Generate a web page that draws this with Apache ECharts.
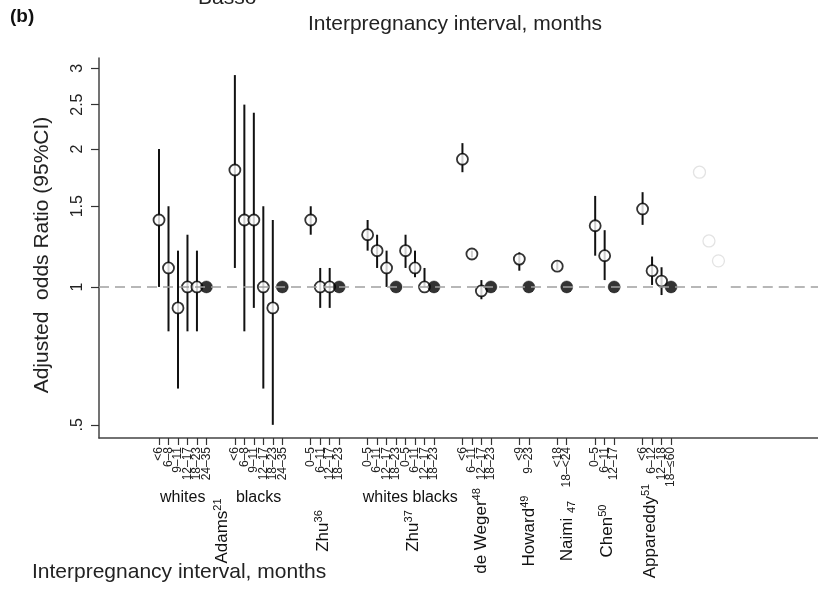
<!DOCTYPE html>
<html><head><meta charset="utf-8">
<script src="https://cdn.jsdelivr.net/npm/echarts@6/dist/echarts.min.js"></script>
<style>html,body{margin:0;padding:0;background:#fff}#c{width:818px;height:590px}</style>
</head><body><div id="c"></div>
<script>
const N = null;
// interval categories along the x axis ('' = spacer between studies)
const intervalLabels = [
  '<6','6–8','9–11','12–17','18–23','24–35','','',
  '<6','6–8','9–11','12–17','18–23','24–35','','',
  '0–5','6–11','12–17','18–23','','',
  '0–5','6–11','12–17','18–23','0–5','6–11','12–17','18–23','','',
  '<6','6–11','12–17','18–23','','',
  '<9','9–23','','',
  '<18','18–<24','','',
  '0–5','6–11','12–17','','',
  '<6','6–12','12–18','18–≤60','','',
  '','',''
];
const oddsRatio = [
  1.4,1.1,0.9,1.0,1.0,N,N,N,
  1.8,1.4,1.4,1.0,0.9,N,N,N,
  1.4,1.0,1.0,N,N,N,
  1.3,1.2,1.1,N,1.2,1.1,1.0,N,N,N,
  1.9,1.18,0.98,N,N,N,
  1.15,N,N,N,
  1.11,N,N,N,
  1.36,1.17,N,N,N,
  1.48,1.085,1.03,N,N,N,
  N,N,N
];
const ciLower = [
  1.0,0.8,0.6,0.8,0.8,N,N,N,
  1.1,0.8,0.9,0.6,0.5,N,N,N,
  1.3,0.9,0.9,N,N,N,
  1.2,1.1,1.0,N,1.1,1.05,1.0,N,N,N,
  1.78,1.16,0.94,N,N,N,
  1.085,N,N,N,
  1.09,N,N,N,
  1.17,1.035,N,N,N,
  1.366,1.01,0.96,N,N,N,
  N,N,N
];
const ciUpper = [
  2.0,1.5,1.2,1.3,1.2,N,N,N,
  2.9,2.5,2.4,1.5,1.4,N,N,N,
  1.5,1.1,1.1,N,N,N,
  1.4,1.3,1.2,N,1.3,1.2,1.1,N,N,N,
  2.06,1.2,1.035,N,N,N,
  1.19,N,N,N,
  1.135,N,N,N,
  1.58,1.33,N,N,N,
  1.61,1.165,1.104,N,N,N,
  N,N,N
];
const referenceOR = [
  N,N,N,N,N,1,N,N,
  N,N,N,N,N,1,N,N,
  N,N,N,1,N,N,
  N,N,N,1,N,N,N,1,N,N,
  N,N,N,1,N,N,
  N,1,N,N,
  N,1,N,N,
  N,N,1,N,N,
  N,N,N,1,N,N,
  N,N,N
];
const fadedOR = [
  N,N,N,N,N,N,N,N, N,N,N,N,N,N,N,N, N,N,N,N,N,N,
  N,N,N,N,N,N,N,N,N,N, N,N,N,N,N,N, N,N,N,N, N,N,N,N,
  N,N,N,N,N, N,N,N,N,N,N,
  1.78,1.26,1.14
];
const yTicks = [0.5, 1, 1.5, 2, 2.5, 3];
const studies = [
  {name:'Adams', sup:'21', at:6.65},
  {name:'Zhu', sup:'36', at:17.3},
  {name:'Zhu', sup:'37', at:26.8},
  {name:'de Weger', sup:'48', at:34.0},
  {name:'Howard', sup:'49', at:39.1},
  {name:'Naimi ', sub:'47', at:43.1},
  {name:'Chen', sup:'50', at:47.3},
  {name:'Appareddy', sup:'51', at:51.8}
];
const groups = [
  {text:'whites', at:2.5},
  {text:'blacks', at:10.5},
  {text:'whites blacks', at:26.5}
];
const axisTitle = 'Interpregnancy interval, months';
const yTitle = 'Adjusted  odds Ratio (95%CI)';

const FONT = '"Liberation Sans", Arial, sans-serif';
const X_MIN = -6.33, X_MAX = 69.5, Y_MIN = 0.468, Y_MAX = 3.16;

const tickIdx = [];
const errData = [], openData = [], refData = [], fadedData = [];
intervalLabels.forEach((l, i) => {
  if (l) tickIdx.push(i);
  if (ciLower[i] != null) errData.push([i, ciLower[i], ciUpper[i]]);
  if (oddsRatio[i] != null) openData.push([i, oddsRatio[i]]);
  if (referenceOR[i] != null) refData.push([i, referenceOR[i]]);
  if (fadedOR[i] != null) fadedData.push([i, fadedOR[i]]);
});
// blank labels at both axis ends keep every interval label visible
const labelVals = [X_MIN].concat(tickIdx, [X_MAX]);

const chart = echarts.init(document.getElementById('c'));
chart.setOption({
  animation: false,
  grid: {left: 99, right: 0, top: 58, bottom: 152, containLabel: false, outerBoundsMode: 'none'},
  xAxis: {
    type: 'value', min: X_MIN, max: X_MAX, splitLine: {show: false},
    axisLine: {show: true, onZero: false, lineStyle: {color: '#444', width: 1.5}},
    axisTick: {show: true, customValues: tickIdx, length: 7, lineStyle: {color: '#333', width: 1.2}},
    axisLabel: {show: true, customValues: labelVals, rotate: 90, fontSize: 12, fontFamily: FONT, color: '#222', margin: 9,
      hideOverlap: false,
      formatter: v => (Number.isInteger(v) ? intervalLabels[v] : '') || ' '}
  },
  yAxis: {
    type: 'log', min: Y_MIN, max: Y_MAX, splitLine: {show: false},
    axisLine: {show: true, onZero: false, lineStyle: {color: '#444', width: 1.5}},
    axisTick: {show: true, customValues: yTicks, length: 8, lineStyle: {color: '#333', width: 1.2}},
    axisLabel: {show: true, customValues: yTicks, rotate: 90, fontSize: 16, fontFamily: FONT, color: '#222', margin: 13,
      showMinLabel: true, showMaxLabel: true,
      formatter: v => { const r = Math.round(v * 10) / 10; return r < 1 ? String(r).replace(/^0/, '') : String(r); }}
  },
  series: [
    {
      type: 'line', data: [], z: 1, silent: true,
      markLine: {
        symbol: 'none', silent: true, label: {show: false},
        lineStyle: {color: '#a0a0a0', width: 1.6, type: [10, 6]},
        data: [
          [{coord: [X_MIN, 1]}, {coord: [58.9, 1]}],
          [{coord: [60.3, 1]}, {coord: [X_MAX, 1]}]
        ]
      }
    },
    {
      type: 'custom', z: 2, silent: true, data: errData,
      renderItem: (params, api) => {
        const a = api.coord([api.value(0), api.value(1)]);
        const b = api.coord([api.value(0), api.value(2)]);
        return {type: 'line', shape: {x1: a[0], y1: a[1], x2: b[0], y2: b[1]}, style: {stroke: '#111', lineWidth: 2}};
      }
    },
    {type: 'scatter', z: 3, data: openData, symbol: 'circle', symbolSize: 11,
      itemStyle: {color: '#fff', borderColor: '#000', borderWidth: 1.8}},
    {type: 'scatter', z: 3, data: refData, symbol: 'circle', symbolSize: 12,
      itemStyle: {color: '#000', borderColor: '#000', borderWidth: 0.5}},
    {type: 'scatter', z: 3, data: fadedData, symbol: 'circle', symbolSize: 12,
      itemStyle: {color: '#fff', borderColor: '#dcdcdc', borderWidth: 1.3}}
  ]
});

const px = v => chart.convertToPixel({gridIndex: 0}, [v, 1])[0];
const graphics = [
  {type: 'text', x: 10, y: 17, style: {text: '(b)', font: 'bold 19px ' + FONT, fill: '#111', verticalAlign: 'middle'}},
  {type: 'text', x: 198, y: -2, style: {text: 'Basso', font: '21px ' + FONT, fill: '#222', verticalAlign: 'middle'}},
  {type: 'text', x: 455, y: 24, style: {text: axisTitle, font: '21px ' + FONT, fill: '#222', align: 'center', verticalAlign: 'middle'}},
  {type: 'text', x: 32, y: 572, style: {text: axisTitle, font: '21px ' + FONT, fill: '#222', verticalAlign: 'middle'}},
  {type: 'text', x: 42, y: 255, rotation: Math.PI / 2, style: {text: yTitle, font: '21px ' + FONT, fill: '#222', align: 'center', verticalAlign: 'middle'}}
];
groups.forEach(g => graphics.push({type: 'text', x: px(g.at), y: 498,
  style: {text: g.text, font: '16px ' + FONT, fill: '#111', align: 'center', verticalAlign: 'middle'}}));
studies.forEach(s => {
  const txt = '{n|' + s.name + '}' + (s.sup ? '{s|' + s.sup + '}' : '{b|' + s.sub + '}');
  graphics.push({type: 'text', x: px(s.at), y: 531, rotation: Math.PI / 2,
    style: {text: txt, align: 'center', verticalAlign: 'middle',
      rich: {
        n: {fontSize: 17, fontFamily: FONT, fill: '#111', lineHeight: 20},
        s: {fontSize: 11, fontFamily: FONT, fill: '#111', lineHeight: 11, verticalAlign: 'top'},
        b: {fontSize: 11, fontFamily: FONT, fill: '#111', lineHeight: 11, verticalAlign: 'bottom'}
      }}});
});
chart.setOption({graphic: graphics});
</script>
</body></html>
